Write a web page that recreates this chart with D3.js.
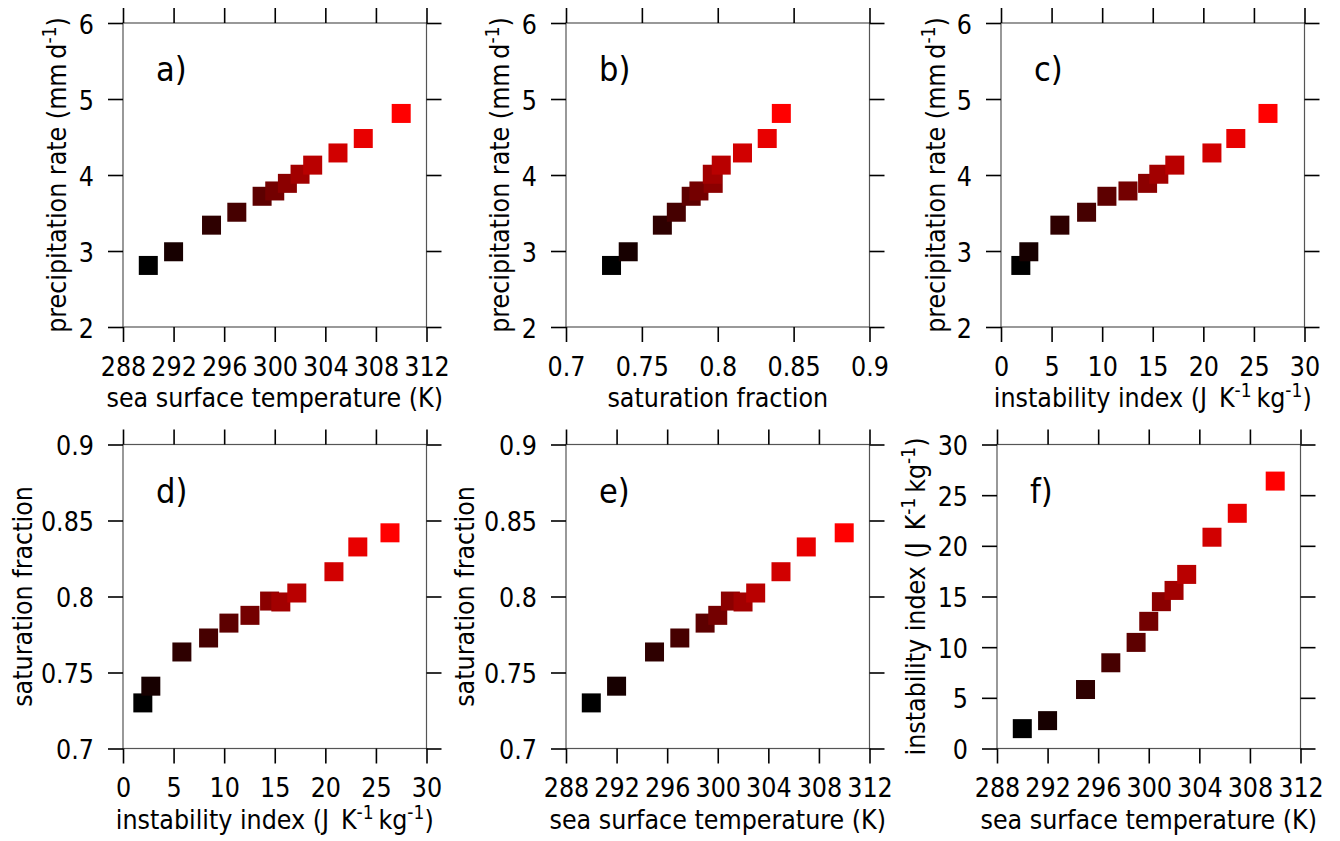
<!DOCTYPE html>
<html>
<head>
<meta charset="utf-8">
<script src="https://cdn.jsdelivr.net/npm/d3@7"></script>
<style>
  html, body { margin: 0; padding: 0; background: #fff; }
  svg { display: block; }
  text { font-family: "DejaVu Sans Condensed", "DejaVu Sans", sans-serif; font-stretch: condensed; fill: #000; }
</style>
</head>
<body>
<svg id="chart" width="1340" height="841"></svg>
<script>
// ---- data ----
const sst       = [290, 292, 295, 297, 299, 300, 301, 302, 303, 305, 307, 310];
const precip    = [2.81, 2.99, 3.34, 3.51, 3.72, 3.79, 3.89, 4.01, 4.13, 4.29, 4.48, 4.81];
const satFrac   = [0.730, 0.741, 0.7635, 0.7727, 0.7825, 0.7876, 0.797, 0.7964, 0.8023, 0.8163, 0.8326, 0.8419];
const instab    = [1.96, 2.75, 5.82, 8.46, 10.47, 12.55, 14.49, 15.6, 17.18, 20.85, 23.21, 26.39];

// ---- tick labels ----
const sstTicks     = [288, 292, 296, 300, 304, 308, 312];
const precipTicks  = [2, 3, 4, 5, 6];
const satTicks     = [0.7, 0.75, 0.8, 0.85, 0.9];
const satLabels    = ["0.7", "0.75", "0.8", "0.85", "0.9"];
const instabTicks  = [0, 5, 10, 15, 20, 25, 30];

const variables = {
  sst:    { values: sst,     domain: [288, 312], ticks: sstTicks,    labels: sstTicks.map(String),
            title: [["sea surface temperature (K)"]] },
  precip: { values: precip,  domain: [2, 6],     ticks: precipTicks, labels: precipTicks.map(String),
            title: [["precipitation rate (mm\u2009d"], ["-1", "sup"], [")"]] },
  sat:    { values: satFrac, domain: [0.7, 0.9], ticks: satTicks,    labels: satLabels,
            title: [["saturation fraction"]] },
  instab: { values: instab,  domain: [0, 30],    ticks: instabTicks, labels: instabTicks.map(String),
            title: [["instability index (J\u2002K"], ["-1", "sup"], ["\u2009kg"], ["-1", "sup"], [")"]] }
};

const panels = [
  { id: "a)", x: "sst",    y: "precip", left: 123, top: 23,  ytOff: 57 },
  { id: "b)", x: "sat",    y: "precip", left: 566, top: 23,  ytOff: 57 },
  { id: "c)", x: "instab", y: "precip", left: 1001, top: 23, ytOff: 56 },
  { id: "d)", x: "instab", y: "sat",    left: 123, top: 444.5, ytOff: 91 },
  { id: "e)", x: "sst",    y: "sat",    left: 566, top: 444.5, ytOff: 92 },
  { id: "f)", x: "sst",    y: "instab", left: 997, top: 444.5, ytOff: 72 }
];

const W = 303.5, H = 304;
const tickLen = 15;
const fontSize = 26.5;
const supSize = 19;
const markSize = 19;
const n = sst.length;
const colour = i => d3.interpolateRgb("#000000", "#ff0000")(i / (n - 1));

const svg = d3.select("#chart");

function addTitle(sel, parts) {
  parts.forEach(([txt, kind], k) => {
    const t = sel.append("tspan").text(txt);
    if (kind === "sup") {
      t.attr("font-size", supSize).attr("dy", -10);
    } else {
      t.attr("font-size", fontSize);
      if (k > 0 && parts[k - 1][1] === "sup") t.attr("dy", 10);
    }
  });
}

panels.forEach(p => {
  const vx = variables[p.x], vy = variables[p.y];
  const g = svg.append("g").attr("transform", `translate(${p.left},${p.top})`);
  const xs = d3.scaleLinear().domain(vx.domain).range([0, W]);
  const ys = d3.scaleLinear().domain(vy.domain).range([H, 0]);

  // box
  g.append("rect").attr("x", 0).attr("y", 0).attr("width", W).attr("height", H)
    .attr("fill", "none").attr("stroke", "#555").attr("stroke-width", 1.2);

  const styleAxis = sel => {
    sel.select(".domain").remove();
    sel.selectAll(".tick line").attr("stroke", "#000").attr("stroke-width", 1.6);
    sel.selectAll(".tick text").attr("font-size", fontSize)
      .attr("font-family", "DejaVu Sans Condensed, DejaVu Sans, sans-serif").attr("fill", "#000");
  };

  // bottom
  g.append("g").attr("transform", `translate(0,${H})`)
    .call(d3.axisBottom(xs).tickValues(vx.ticks).tickSizeInner(tickLen).tickSizeOuter(0)
      .tickPadding(15).tickFormat((d, i) => vx.labels[i]))
    .call(styleAxis);
  // top
  g.append("g")
    .call(d3.axisTop(xs).tickValues(vx.ticks).tickSizeInner(tickLen).tickSizeOuter(0).tickFormat(""))
    .call(styleAxis);
  // left
  g.append("g")
    .call(d3.axisLeft(ys).tickValues(vy.ticks).tickSizeInner(tickLen).tickSizeOuter(0)
      .tickPadding(14).tickFormat((d, i) => vy.labels[i]))
    .call(styleAxis)
    .selectAll(".tick text").attr("dy", "0.38em");
  // right
  g.append("g").attr("transform", `translate(${W},0)`)
    .call(d3.axisRight(ys).tickValues(vy.ticks).tickSizeInner(tickLen).tickSizeOuter(0).tickFormat(""))
    .call(styleAxis);

  // markers
  g.append("g").selectAll("rect").data(vx.values).join("rect")
    .attr("x", (d, i) => xs(d) - markSize / 2)
    .attr("y", (d, i) => ys(vy.values[i]) - markSize / 2)
    .attr("width", markSize).attr("height", markSize)
    .attr("fill", (d, i) => colour(i));

  // panel letter
  g.append("text").attr("x", 33).attr("y", 58).attr("font-size", 34).text(p.id);

  // x title
  const xt = g.append("text").attr("x", W / 2).attr("y", H + 80).attr("text-anchor", "middle")
    .attr("font-size", fontSize);
  addTitle(xt, vx.title);

  // y title
  const yt = g.append("text").attr("transform", `translate(${-p.ytOff},${H / 2}) rotate(-90)`)
    .attr("text-anchor", "middle").attr("font-size", fontSize);
  addTitle(yt, vy.title);
});
</script>
</body>
</html>
